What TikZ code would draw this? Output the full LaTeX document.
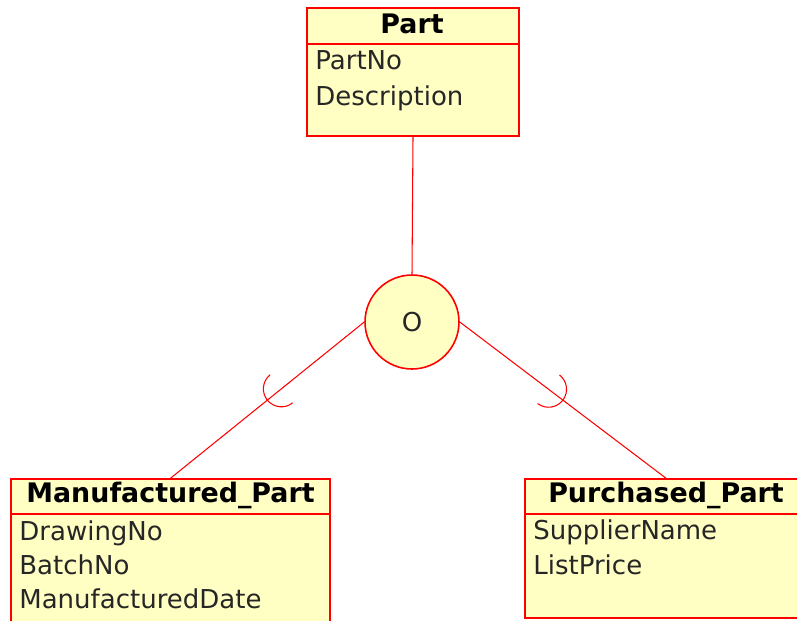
\documentclass[tikz,border=0pt]{standalone}
\usepackage{fontspec}
\setmainfont{DejaVu Sans}
\usetikzlibrary{decorations.markings}

\definecolor{erfill}{RGB}{255,255,196}
\definecolor{erline}{RGB}{255,0,0}

\tikzset{
  entity/.style={draw=erline, fill=erfill, line width=0.9pt, rectangle, inner sep=0pt},
  title/.style={anchor=base, inner sep=0pt, text=black, font=\bfseries\fontsize{15.3}{18}\selectfont},
  attr/.style={anchor=base west, inner sep=0pt, text=black!85, font=\fontsize{14.8}{17}\selectfont},
  overlap/.style={circle, draw=erline, fill=erfill, line width=0.9pt, minimum size=1.88cm, inner sep=0pt, text=black!85, font=\fontsize{14.8}{17}\selectfont},
  link/.style={draw=erline, line width=0.6pt},
  subset/.style={postaction={decorate}, decoration={markings, mark=at position 0.5 with {\draw[erline, line width=0.6pt] (-0.36cm,0.36cm) arc[start angle=90, end angle=-90, radius=0.36cm];}}}
}

\begin{document}
\begin{tikzpicture}[x=0.02cm, y=-0.02cm]
    \useasboundingbox (0,0) rectangle (797,620);

    % superclass
    \node[entity, minimum width=4.24cm, minimum height=2.56cm] (part) at (413,72) {};
    \draw[link, line width=0.9pt] (part.west |- 0,44) -- (part.east |- 0,44);
    \node[title] (part title) at (412,33) {Part};
    \node[attr] (part no)   at (315,69)  {PartNo};
    \node[attr] (part desc) at (315,105) {Description};

    % subclasses
    \node[entity, minimum width=6.38cm, minimum height=3.02cm] (made) at (170.5,554.5) {};
    \draw[link, line width=0.9pt] (made.west |- 0,514) -- (made.east |- 0,514);
    \node[title] (made title) at (170.5,502) {Manufactured\_Part};
    \node[attr] (made drawing) at (19,540) {DrawingNo};
    \node[attr] (made batch)   at (19,574) {BatchNo};
    \node[attr] (made date)    at (19,608) {ManufacturedDate};

    \node[entity, minimum width=5.64cm, minimum height=2.78cm] (bought) at (666,548.5) {};
    \draw[link, line width=0.9pt] (bought.west |- 0,514) -- (bought.east |- 0,514);
    \node[title] (bought title) at (666,502) {Purchased\_Part};
    \node[attr] (bought supplier) at (533,539) {SupplierName};
    \node[attr] (bought price)    at (533,574) {ListPrice};

    % specialisation
    \node[overlap] (ovl) at (412,322) {O};
    \draw[link] (part.south) -- (ovl.north);
    \draw[link, subset] (ovl.west) -- (made.north);
    \draw[link, subset] (ovl.east) -- (bought.north);
\end{tikzpicture}
\end{document}
